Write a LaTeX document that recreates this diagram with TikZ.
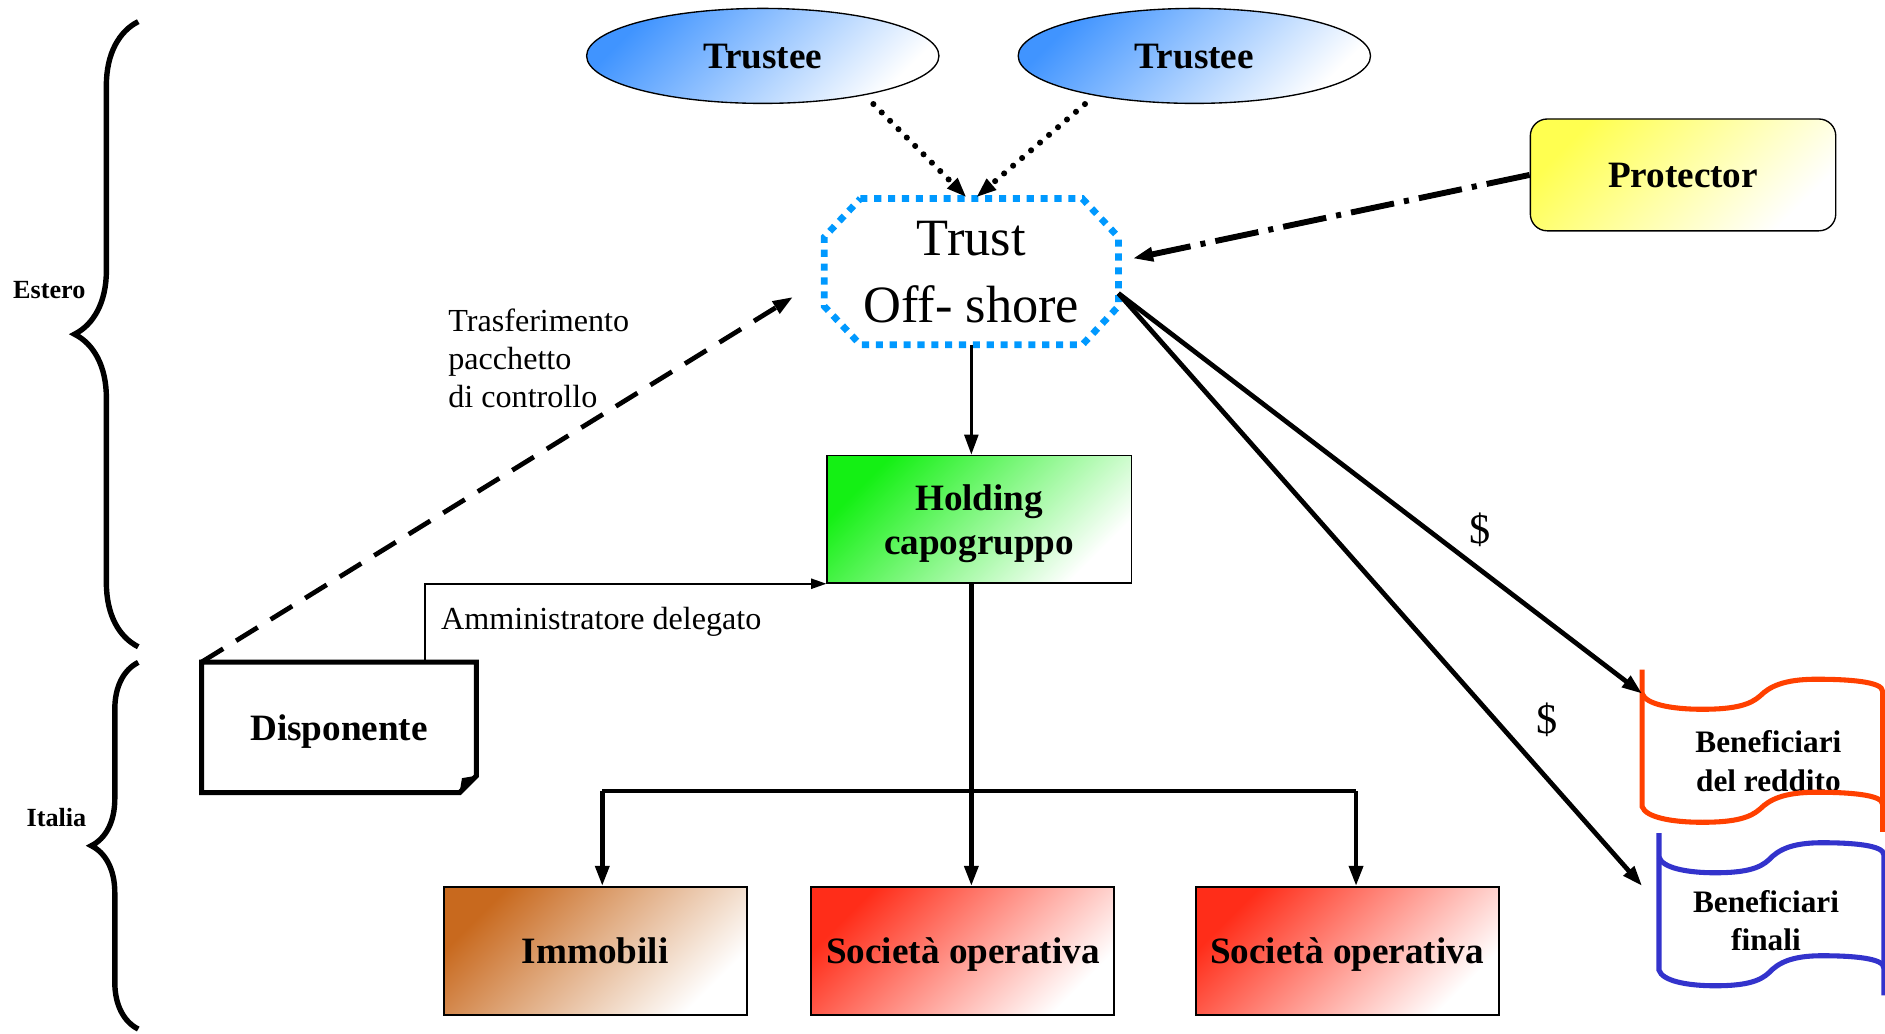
\documentclass[tikz,border=0pt]{standalone}
\usepackage{fontspec}
\setmainfont{Liberation Serif}
\usepackage{tikz}
\usepackage{xcolor}
\usetikzlibrary{shapes.geometric}
\usetikzlibrary{arrows.meta}
\usetikzlibrary{decorations.pathreplacing}
\usetikzlibrary{calc}

\definecolor{teeblue}{RGB}{64,148,255}
\definecolor{protyellow}{RGB}{255,255,80}
\definecolor{holdgreen}{RGB}{20,240,20}
\definecolor{immobrown}{RGB}{200,105,30}
\definecolor{socred}{RGB}{255,45,25}
\definecolor{trblue}{RGB}{0,153,255}
\definecolor{benred}{RGB}{255,64,0}
\definecolor{benblue}{RGB}{51,51,204}

\begin{document}
\begin{tikzpicture}[x=0.025cm,y=-0.025cm,>={Triangle[length=12pt,width=8pt]},
  boldtxt/.style={font=\bfseries\fontsize{22}{26}\selectfont,align=center,text depth=0pt},
  tee/.style={ellipse,draw,line width=.8pt,top color=teeblue,bottom color=white,shading angle=45,
    minimum width=7.325cm,minimum height=1.975cm,inner sep=0pt,boldtxt},
  prot/.style={rectangle,rounded corners=10pt,draw,line width=.8pt,top color=protyellow,bottom color=white,
    shading angle=45,minimum width=6.35cm,minimum height=2.325cm,boldtxt},
  hold/.style={rectangle,draw,line width=.8pt,top color=holdgreen,bottom color=white,shading angle=45,
    minimum width=6.325cm,minimum height=2.65cm,boldtxt},
  lowbox/.style={rectangle,draw,line width=1.2pt,top color=#1,bottom color=white,shading angle=45,
    minimum width=6.3cm,minimum height=2.65cm,boldtxt},
  trnode/.style={rectangle,minimum width=6.1cm,minimum height=3.025cm,inner sep=0pt,align=center,
    font=\fontsize{31}{39.5}\selectfont,text depth=0pt},
  disp/.style={rectangle,minimum width=5.7cm,minimum height=2.7cm,boldtxt},
  benef/.style={font=\bfseries\fontsize{18.5}{22.7}\selectfont,align=center},
  lbl/.style={font=\fontsize{19}{22.7}\selectfont},
  side/.style={font=\bfseries\fontsize{15.5}{18}\selectfont},
  dollar/.style={font=\fontsize{25}{30}\selectfont},
  octline/.style={draw=trblue,line width=4pt,dash pattern=on 4.2pt off 4pt},
  dotln/.style={line width=3.6pt,line cap=round,dash pattern=on 0pt off 7pt},
  dadoln/.style={line width=3.5pt,dash pattern=on 26pt off 6pt on 3pt off 6pt},
  dashln/.style={line width=2.8pt,dash pattern=on 15pt off 9pt},
  bus/.style={line width=2.8pt},
  brc/.style={decorate,line width=3.2pt}]
  \useasboundingbox (0,0) rectangle (1568,860);

  \node (t1) [tee] at (634.5,46.5) {Trustee};
  \node (t2) [tee] at (993.5,46.5) {Trustee};
  \node (pr) [prot] at (1400,145.5) {Protector};
  \node (tr) [trnode] at (808,226) {Trust\\Off- shore};
  \node (ho) [hold] at (814.5,432) {Holding\\capogruppo};
  \node (di) [disp] at (282,605) {Disponente};
  \node (im) [lowbox=immobrown] at (495,791) {Immobili};
  \node (s1) [lowbox=socred] at (801,791) {Società operativa};
  \node (s2) [lowbox=socred] at (1120.5,791) {Società operativa};
  \node (br) [benef] at (1471,633) {Beneficiari\\del reddito};
  \node (bf) [benef] at (1469,766) {Beneficiari\\finali};
  \node (tp) [lbl,anchor=west,align=left] at (368,298) {Trasferimento\\pacchetto\\di controllo};
  \node (ad) [lbl,anchor=west] at (362,517) {Amministratore delegato};
  \node (es) [side] at (41,241) {Estero};
  \node (it) [side] at (47,680) {Italia};

  % braces
  \draw[brc,decoration={brace,amplitude=1.325cm}] (115,538) -- (115,18);
  \draw[brc,decoration={brace,amplitude=0.975cm}] (115,856) -- (115,551);

  % trust outline
  \draw[octline] ($(tr.north west)+(30,0)$) -- ($(tr.north east)+(-30,0)$) -- ($(tr.north east)+(0,32)$)
    -- ($(tr.south east)+(0,-32)$) -- ($(tr.south east)+(-30,0)$) -- ($(tr.south west)+(30,0)$)
    -- ($(tr.south west)+(0,-32)$) -- ($(tr.north west)+(0,32)$) -- cycle;

  % disponente outline
  \path (node cs:name=di,anchor=south east) +(0,-14) coordinate (dia);
  \path (node cs:name=di,anchor=south east) +(-14,0) coordinate (dib);
  \path (node cs:name=di,anchor=south east) +(-12,-12) coordinate (dic);
  \draw[line width=3pt] (di.south west) -- (di.north west) -- (di.north east) -- (dia) -- (dib) -- cycle;
  \fill (dia) -- (dib) -- (dic) -- cycle;

  % beneficiari outlines
  \begin{scope}[shift={(1366,577)},color=benred,line width=3pt]
    \draw (0,-20) -- (0,94) .. controls (3,103) and (25,107) .. (50,107) .. controls (78,107) and (90,103) .. (98,96)
      .. controls (106,88) and (118,82) .. (145,82) .. controls (172,82) and (200,84) .. (200,92);
    \draw (0,0) .. controls (3,9) and (25,13) .. (50,13) .. controls (78,13) and (90,9) .. (98,2)
      .. controls (106,-6) and (118,-12) .. (145,-12) .. controls (172,-12) and (200,-10) .. (200,-2) -- (200,115);
  \end{scope}
  \begin{scope}[shift={(1380,713)},xscale=.935,color=benblue,line width=3pt]
    \draw (0,-20) -- (0,94) .. controls (3,103) and (25,107) .. (50,107) .. controls (78,107) and (90,103) .. (98,96)
      .. controls (106,88) and (118,82) .. (145,82) .. controls (172,82) and (200,84) .. (200,92);
    \draw (0,0) .. controls (3,9) and (25,13) .. (50,13) .. controls (78,13) and (90,9) .. (98,2)
      .. controls (106,-6) and (118,-12) .. (145,-12) .. controls (172,-12) and (200,-10) .. (200,-2) -- (200,115);
  \end{scope}

  % connectors
  \path (node cs:name=t1,anchor=south) +(92,0) coordinate (t1o);
  \path (node cs:name=t2,anchor=south) +(-91,0) coordinate (t2o);
  \path (node cs:name=tr,anchor=north) +(-4,-1) coordinate (tra);
  \path (node cs:name=tr,anchor=north) +(4,-1) coordinate (trb);
  \draw[dotln,->] (t1o) -- (tra);
  \draw[dotln,->] (t2o) -- (trb);

  \path (node cs:name=tr,anchor=east) +(12,-11) coordinate (tre);
  \draw[dadoln,->] (pr.west) -- (tre);

  \path (node cs:name=tr,anchor=west) +(-26,21) coordinate (trw);
  \draw[dashln,->] (di.north west) -- (trw);

  \path (node cs:name=di,anchor=north west) +(186,0) coordinate (dit);
  \draw[line width=1pt,-{Triangle[length=9pt,width=6pt]}] (dit) |- (ho.south west);

  \draw[line width=2.2pt,->] (tr.south) -- (tr.south |- ho.north);
  \coordinate (bl) at (501,658);
  \coordinate (bre) at (1128,658);
  \draw[bus] (bl) -- (bre);
  \draw[bus,->] (tr.south |- ho.south) -- (tr.south |- s1.north);
  \draw[bus,->] (bl) -- (bl |- im.north);
  \draw[bus,->] (bre) -- (bre |- s2.north);

  \path (node cs:name=tr,anchor=east) +(0,18) coordinate (tro);
  \coordinate (bri) at (1366,577);
  \coordinate (bfi) at (1366,737);
  \draw[bus,->] (tro) -- node[dollar,pos=.69,yshift=23.5pt] (d1) {\$} (bri);
  \draw[bus,->] (tro) -- node[dollar,pos=.72,xshift=30.5pt] (d2) {\$} (bfi);
\end{tikzpicture}
\end{document}
